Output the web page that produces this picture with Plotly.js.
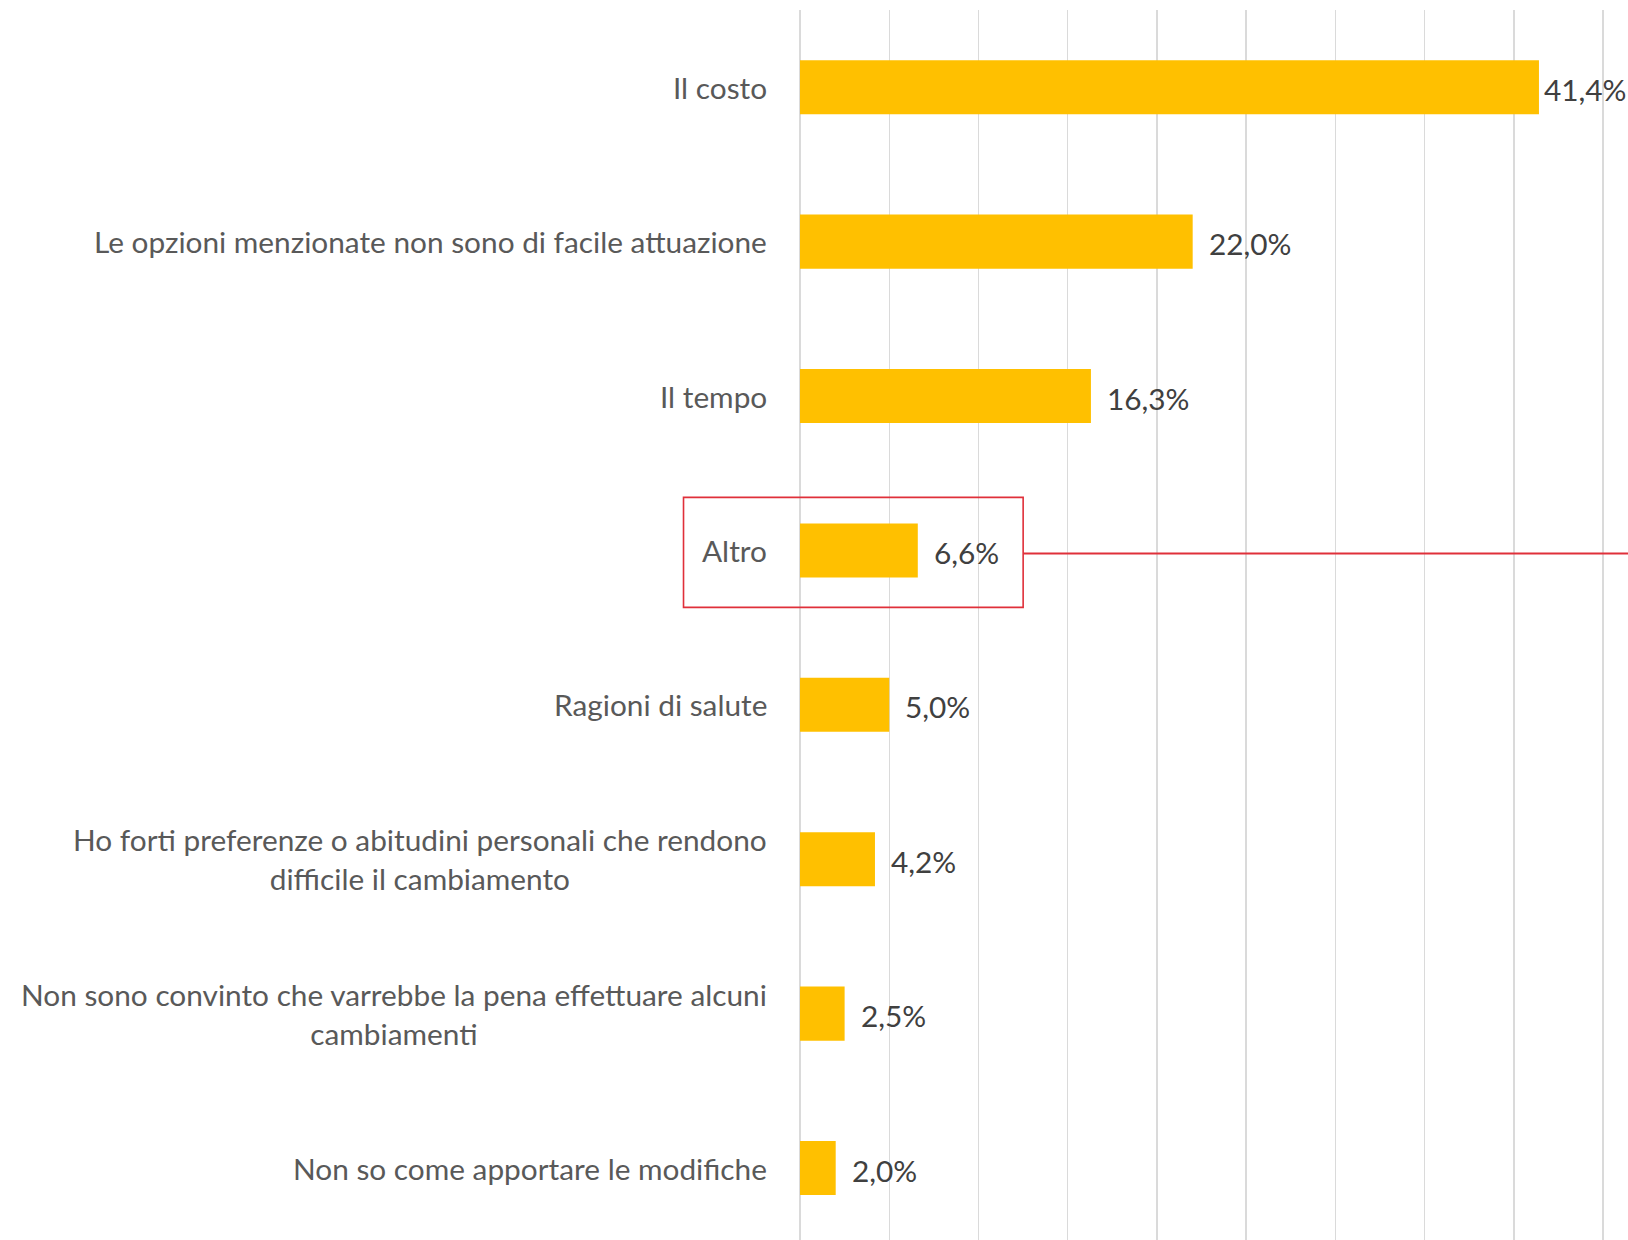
<!DOCTYPE html>
<html>
<head>
<meta charset="utf-8">
<script src="https://cdn.plot.ly/plotly-3.0.1.min.js"></script>
<style>html,body{margin:0;padding:0;background:#fff;}#chart{width:1628px;height:1240px;}</style>
</head>
<body>
<div id="chart"></div>
<script>
const categories = [
  "Il costo",
  "Le opzioni menzionate non sono di facile attuazione",
  "Il tempo",
  "Altro",
  "Ragioni di salute",
  "Ho forti preferenze o abitudini personali che rendono<br>difficile il cambiamento",
  "Non sono convinto che varrebbe la pena effettuare alcuni<br>cambiamenti",
  "Non so come apportare le modifiche"
];
const values = [41.4, 22.0, 16.3, 6.6, 5.0, 4.2, 2.5, 2.0];
const highlighted = "Altro";

const FONT = "Lato, 'Open Sans', sans-serif";
const FS = 29.8;
const maxV = Math.max(...values);

const trace = {
  type: "bar",
  orientation: "h",
  x: values,
  y: categories,
  marker: {color: "#FFC000"},
  hoverinfo: "skip",
  cliponaxis: false
};

const labelAnn = categories.map(c => ({
  xref: "paper", yref: "y", x: 0, y: c,
  xanchor: "right", yanchor: "middle", xshift: -31,
  align: "center", showarrow: false,
  text: c,
  font: {family: FONT, size: FS, color: "#595959"}
}));

const valueAnn = values.map((v, i) => ({
  xref: "x", yref: "y", x: v, y: categories[i],
  xanchor: "left", yanchor: "middle", xshift: v === maxV ? 3 : 14, yshift: -2,
  showarrow: false,
  text: v.toFixed(1).replace(".", ",") + "%",
  font: {family: FONT, size: FS, color: "#404040"}
}));

const layout = {
  width: 1628, height: 1240,
  margin: {l: 799.5, r: 23.2, t: 10, b: 0, pad: 0},
  paper_bgcolor: "#ffffff", plot_bgcolor: "#ffffff",
  showlegend: false,
  bargap: 0.65,
  font: {family: FONT, size: FS, color: "#595959"},
  xaxis: {
    range: [0, 45.1], dtick: 5, tick0: 0,
    showgrid: true, gridcolor: "#DADADA", gridwidth: 1.5,
    zeroline: true, zerolinecolor: "#DADADA", zerolinewidth: 1.5,
    showticklabels: false, ticks: "", showline: false, fixedrange: true
  },
  yaxis: {
    type: "category",
    range: [7.466, -0.5],
    showticklabels: false, ticks: "", showgrid: false, zeroline: false, showline: false
  },
  annotations: labelAnn.concat(valueAnn),
  shapes: [
    {type: "rect", xref: "paper", yref: "paper", x0: -0.1447, x1: 0.2772, y0: 0.5143, y1: 0.6038,
     line: {color: "#E0303A", width: 1.6}, fillcolor: "rgba(0,0,0,0)"},
    {type: "line", xref: "paper", yref: "paper", x0: 0.2772, x1: 1.04, y0: 0.5582, y1: 0.5582,
     line: {color: "#E0303A", width: 2}}
  ]
};

Plotly.newPlot("chart", [trace], layout, {displayModeBar: false, staticPlot: true});
</script>
</body>
</html>
